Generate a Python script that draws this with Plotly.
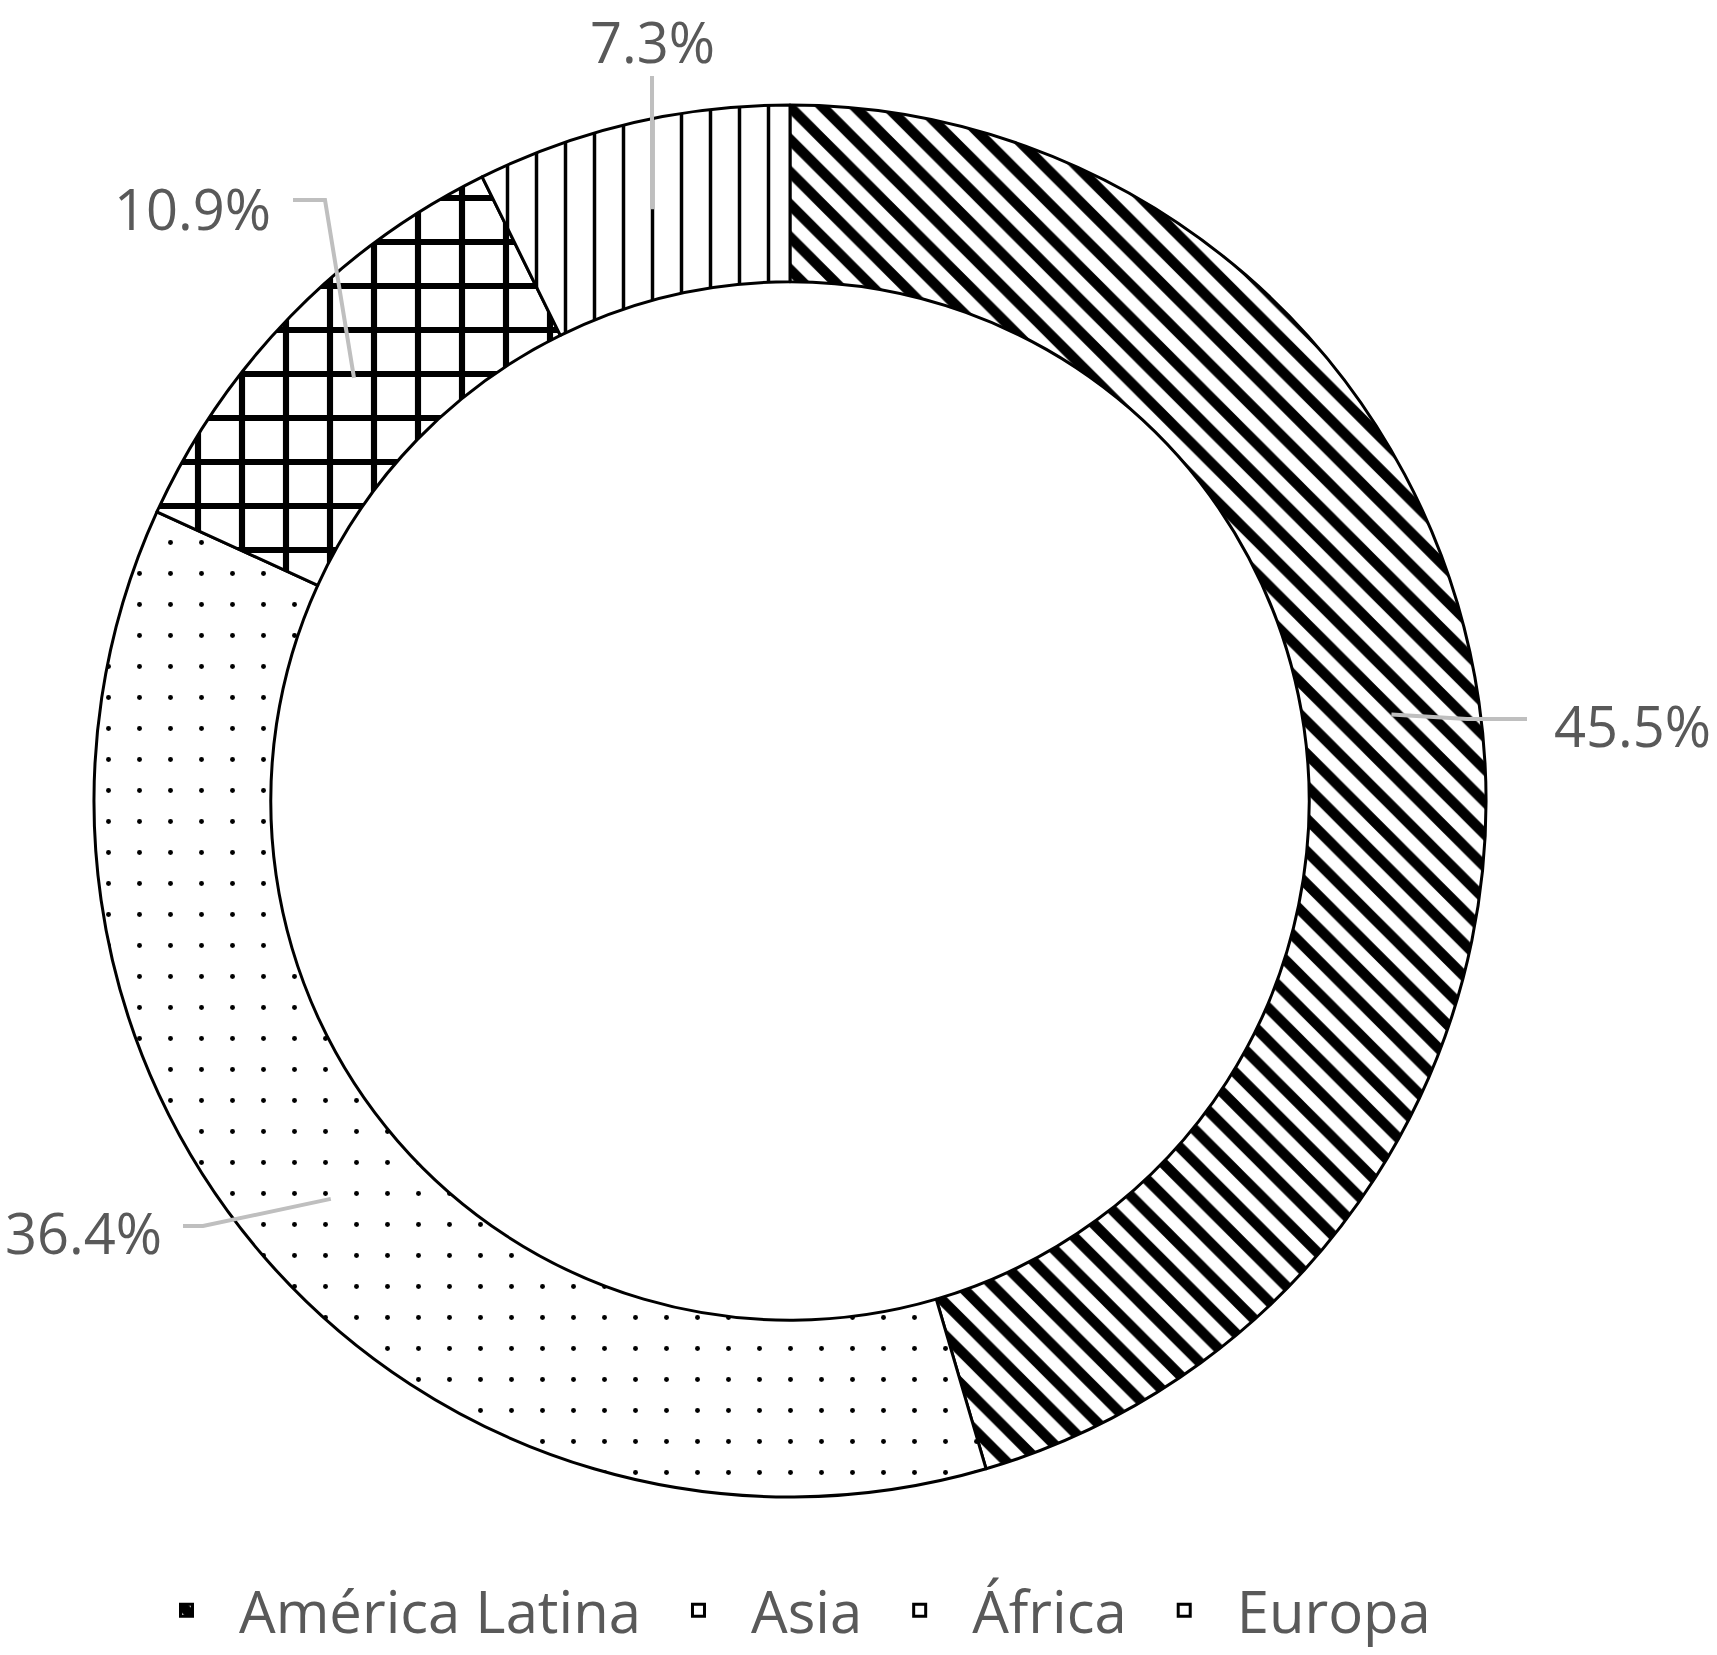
import math
import plotly.graph_objects as go

# ---- data ----
regions = ["América Latina", "Asia", "África", "Europa"]
shares = [45.5, 36.4, 10.9, 7.3]
pattern_shapes = ["\\", ".", "+", "|"]

# ---- layout constants (pixels) ----
W, H = 1717, 1655
CX, CY = 790, 801
R_OUT = 696
HOLE = 0.746
R_IN = R_OUT * HOLE
R_MID = (R_OUT + R_IN) / 2
TEXT_COLOR = "#595959"
LEADER_COLOR = "#bfbfbf"
FONT = "Open Sans"
FS = 56


def px(x):
    return x / W


def py(y):
    return 1 - y / H


fig = go.Figure()
fig.add_trace(go.Pie(
    labels=regions,
    values=shares,
    sort=False,
    direction="clockwise",
    rotation=0,
    hole=HOLE,
    textinfo="none",
    hoverinfo="label+percent",
    domain=dict(x=[px(CX - R_OUT), px(CX + R_OUT)], y=[py(CY + R_OUT), py(CY - R_OUT)]),
    marker=dict(
        colors=["white"] * 4,
        line=dict(color="black", width=3),
        pattern=dict(
            shape=pattern_shapes,
            fgcolor="black",
            bgcolor="white",
            fgopacity=1,
            fillmode="replace",
            size=[23, 31, 44, 29],
            solidity=[0.45, 0.02, 0.26, 0.12],
        ),
    ),
))

# leader lines: start at mid-ring on each slice's mid angle, then elbow and label
total = sum(shares)
cum = 0
mid_pts = []
for v in shares:
    a = (cum + v / 2) / total * 2 * math.pi
    cum += v
    mid_pts.append((CX + R_MID * math.sin(a), CY - R_MID * math.cos(a)))

# label layout: (elbow point, end point, text anchor x, y, xanchor, yanchor)
label_layout = [
    ((1467, 719), (1527, 719), 1553, 725, "left", "middle"),
    ((203, 1226), (183, 1226), 163, 1232, "right", "middle"),
    ((325, 200), (293, 200), 272, 208, "right", "middle"),
    (None, (mid_pts[3][0], 76), mid_pts[3][0], 2, "center", "top"),
]

shapes = []
annotations = []
for (start, (elbow, end, tx, ty, xa, ya), v) in zip(mid_pts, label_layout, shares):
    pts = [start] + ([elbow] if elbow else []) + [end]
    path = "M " + " L ".join(f"{px(x):.5f},{py(y):.5f}" for x, y in pts)
    shapes.append(dict(type="path", xref="paper", yref="paper", path=path,
                       line=dict(color=LEADER_COLOR, width=4)))
    annotations.append(dict(
        x=px(tx), y=py(ty), xref="paper", yref="paper",
        text=f"{v:.1f}%", showarrow=False, xanchor=xa, yanchor=ya,
        borderpad=0,
        font=dict(family=FONT, size=FS, color=TEXT_COLOR),
    ))

fig.update_layout(
    width=W, height=H,
    margin=dict(l=0, r=0, t=0, b=0),
    paper_bgcolor="white",
    plot_bgcolor="white",
    shapes=shapes,
    annotations=annotations,
    showlegend=True,
    legend=dict(
        orientation="h",
        x=px(785), xanchor="center",
        y=0, yanchor="bottom",
        font=dict(family=FONT, size=58, color=TEXT_COLOR),
        itemwidth=95,
        traceorder="normal",
    ),
)

fig.write_html(
    "out.html",
    config={"displayModeBar": False},
    post_script="document.body.style.margin='0';document.body.style.overflow='hidden';",
)
